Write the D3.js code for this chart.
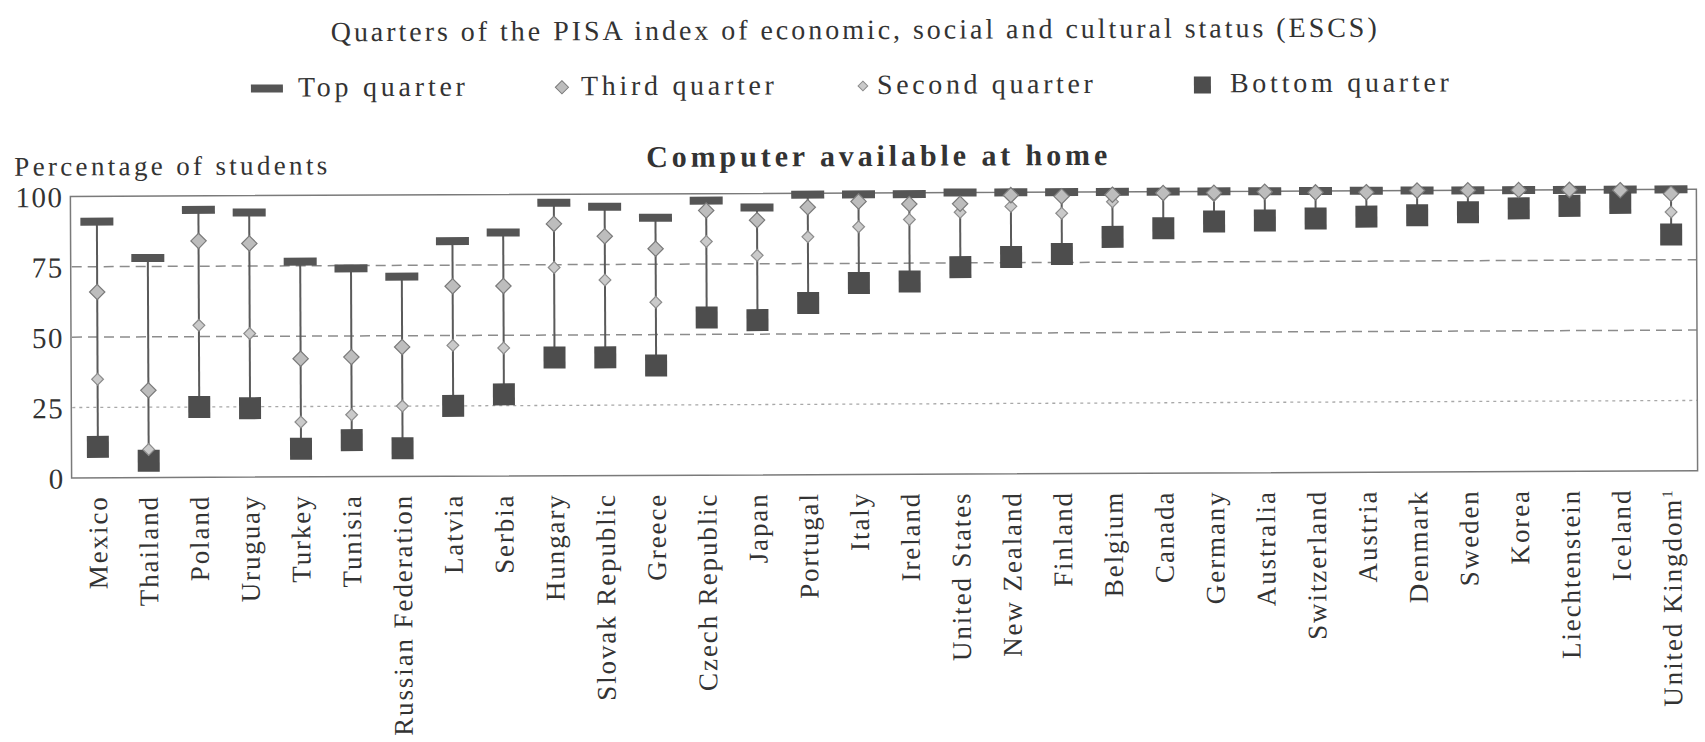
<!DOCTYPE html>
<html>
<head>
<meta charset="utf-8">
<script src="https://cdn.jsdelivr.net/npm/d3@7"></script>
<style>
  body { margin: 0; background: #fff; }
  text { font-family: "Liberation Serif", "DejaVu Serif", serif; fill: #333; }
</style>
</head>
<body>
<div id="chart"></div>
<script>
var countries = ["Mexico", "Thailand", "Poland", "Uruguay", "Turkey", "Tunisia", "Russian Federation",
    "Latvia", "Serbia", "Hungary", "Slovak Republic", "Greece", "Czech Republic", "Japan", "Portugal",
    "Italy", "Ireland", "United States", "New Zealand", "Finland", "Belgium", "Canada", "Germany",
    "Australia", "Switzerland", "Austria", "Denmark", "Sweden", "Korea", "Liechtenstein", "Iceland",
    "United Kingdom"];

var topQuarter    = [91, 78, 95, 94, 76.5, 74, 71, 83.5, 86.5, 97, 95.5, 91.5, 97.5, 95, 99.5, 99.5, 99.5,
    100, 100, 100, 100, 100, 100, 100, 100, 100, 100, 100, 100, 100, 100, 100];
var thirdQuarter  = [66, 31, 84, 83, 42, 42.5, 46, 67.5, 67.5, 89.5, 85, 80.5, 94, 90.5, 95, 97, 96,
    96, 99, 98.5, 99, 99.5, 99.5, 99.8, 99.5, 99.5, 100, 100, 100, 100, 99.8, 98.5];
var secondQuarter = [35, 10, 54, 51, 19.5, 22, 25, 46.5, 45.5, 74, 69.5, 61.5, 83, 78, 84.5, 88, 90.5,
    93, 95, 92.5, 96.5, 99, 98.5, 99.2, 99, 99, 99.5, 99.5, 99.7, 99.8, 99.5, 92];
var bottomQuarter = [11, 6, 25, 24.5, 10, 13, 10, 25, 29, 42, 42, 39, 56, 55, 61, 68, 68.5,
    73.5, 77, 78, 84, 87, 89.3, 89.6, 90.2, 90.8, 91.2, 92.2, 93.5, 94.3, 95.3, 84];

var yTicks = [0, 25, 50, 75, 100];

var width = 1705, height = 742;

var svg = d3.select("#chart")
    .append("svg")
        .attr("width", width)
        .attr("height", height)
    .append("g")
        // the scanned page sits slightly askew
        .attr("transform", "rotate(-0.25, 853, 335)");

var x = d3.scaleBand()
    .domain(countries)
    .range([72, 1697]);

var y = d3.scaleLinear()
    .domain([0, 100])
    .range([474.5, 193]);

var data = countries.map(function(c, i) {
    return { name: c, top: topQuarter[i], third: thirdQuarter[i], second: secondQuarter[i], bottom: bottomQuarter[i] };
});

// titles
svg.append("text")
    .attr("x", 332).attr("y", 39)
    .attr("textLength", 1046).attr("lengthAdjust", "spacing")
    .style("font-size", "28px")
    .text("Quarters of the PISA index of economic, social and cultural status (ESCS)");

svg.append("text")
    .attr("x", 15).attr("y", 172)
    .attr("textLength", 313).attr("lengthAdjust", "spacing")
    .style("font-size", "27px")
    .text("Percentage of students");

svg.append("text")
    .attr("x", 647).attr("y", 166)
    .attr("textLength", 461).attr("lengthAdjust", "spacing")
    .style("font-size", "30px")
    .style("font-weight", "bold")
    .text("Computer available at home");

// legend
var legendY = 86;
var legend = svg.append("g");
legend.append("rect").attr("x", 252).attr("y", legendY - 4).attr("width", 32).attr("height", 8).attr("fill", "#555");
legend.append("text").attr("x", 299).attr("y", legendY + 8).attr("textLength", 167).attr("lengthAdjust", "spacing")
    .style("font-size", "28px").text("Top quarter");
legend.append("path").attr("d", d3.symbol(d3.symbolDiamond2, 110)()).attr("transform", "translate(563," + legendY + ")")
    .attr("fill", "#bdbdbd").attr("stroke", "#7a7a7a");
legend.append("text").attr("x", 582).attr("y", legendY + 8).attr("textLength", 193).attr("lengthAdjust", "spacing")
    .style("font-size", "28px").text("Third quarter");
legend.append("path").attr("d", d3.symbol(d3.symbolDiamond2, 60)()).attr("transform", "translate(864," + legendY + ")")
    .attr("fill", "#cacaca").attr("stroke", "#8c8c8c");
legend.append("text").attr("x", 878).attr("y", legendY + 8).attr("textLength", 216).attr("lengthAdjust", "spacing")
    .style("font-size", "28px").text("Second quarter");
legend.append("rect").attr("x", 1195).attr("y", legendY - 8).attr("width", 17).attr("height", 17).attr("fill", "#4d4d4d");
legend.append("text").attr("x", 1231).attr("y", legendY + 8).attr("textLength", 219).attr("lengthAdjust", "spacing")
    .style("font-size", "28px").text("Bottom quarter");

// gridlines
svg.append("line")
    .attr("x1", 72).attr("x2", 1697).attr("y1", y(75)).attr("y2", y(75))
    .attr("stroke", "#8c8c8c").attr("stroke-width", 1.5).attr("stroke-dasharray", "10,6");
svg.append("line")
    .attr("x1", 72).attr("x2", 1697).attr("y1", y(50)).attr("y2", y(50))
    .attr("stroke", "#8c8c8c").attr("stroke-width", 1.5).attr("stroke-dasharray", "10,6");
svg.append("line")
    .attr("x1", 72).attr("x2", 1697).attr("y1", y(25)).attr("y2", y(25))
    .attr("stroke", "#a8a8a8").attr("stroke-width", 1.3).attr("stroke-dasharray", "3,4");

// frame
svg.append("rect")
    .attr("x", 71).attr("y", y(100))
    .attr("width", 1697 - 71).attr("height", y(0) - y(100))
    .attr("fill", "none").attr("stroke", "#7a7a7a").attr("stroke-width", 1.5);

// y axis labels
var yAxis = svg.append("g")
    .attr("transform", "translate(64,0)")
    .call(d3.axisLeft(y).tickValues(yTicks).tickSize(0).tickPadding(0));
yAxis.select(".domain").remove();
yAxis.selectAll("text")
    .style("font-family", "'Liberation Serif', serif")
    .style("font-size", "29px")
    .style("letter-spacing", "1.5px")
    .attr("fill", "#333")
    .attr("dy", "0.35em");

// x axis labels
var xAxis = svg.append("g")
    .attr("transform", "translate(0," + 492 + ")")
    .call(d3.axisBottom(x).tickSize(0).tickPadding(0));
xAxis.select(".domain").remove();
xAxis.selectAll("text")
    .attr("transform", "rotate(-90)")
    .attr("x", 0)
    .attr("y", 0)
    .attr("dy", "0.33em")
    .style("text-anchor", "end")
    .style("font-family", "'Liberation Serif', serif")
    .style("font-size", "27px")
    .style("letter-spacing", "1.9px")
    .attr("fill", "#333");
xAxis.selectAll(".tick text")
    .filter(function(d) { return d === "United Kingdom"; })
    .append("tspan")
        .attr("dy", "-0.6em")
        .style("font-size", "15px")
        .text("1");

// marks
var cx = function(d) { return x(d.name) + x.bandwidth() / 2; };
var marks = svg.append("g");

marks.selectAll("line.range")
    .data(data)
    .enter()
    .append("line")
        .attr("class", "range")
        .attr("x1", cx).attr("x2", cx)
        .attr("y1", function(d) { return y(d.top) })
        .attr("y2", function(d) { return y(d.bottom) })
        .attr("stroke", "#5a5a5a")
        .attr("stroke-width", 2);

marks.selectAll("rect.top")
    .data(data)
    .enter()
    .append("rect")
        .attr("class", "top")
        .attr("x", function(d) { return cx(d) - 16.5 })
        .attr("y", function(d) { return y(d.top) - 4 })
        .attr("width", 33)
        .attr("height", 8)
        .attr("fill", "#555");

marks.selectAll("rect.bottom")
    .data(data)
    .enter()
    .append("rect")
        .attr("class", "bottom")
        .attr("x", function(d) { return cx(d) - 11 })
        .attr("y", function(d) { return y(d.bottom) - 11 })
        .attr("width", 22)
        .attr("height", 22)
        .attr("fill", "#4d4d4d");

marks.selectAll("path.second")
    .data(data)
    .enter()
    .append("path")
        .attr("class", "second")
        .attr("d", d3.symbol(d3.symbolDiamond2, 88)())
        .attr("transform", function(d) { return "translate(" + cx(d) + "," + y(d.second) + ")" })
        .attr("fill", "#cacaca")
        .attr("stroke", "#8c8c8c")
        .attr("stroke-width", 1.2);

marks.selectAll("path.third")
    .data(data)
    .enter()
    .append("path")
        .attr("class", "third")
        .attr("d", d3.symbol(d3.symbolDiamond2, 150)())
        .attr("transform", function(d) { return "translate(" + cx(d) + "," + y(d.third) + ")" })
        .attr("fill", "#bdbdbd")
        .attr("stroke", "#7a7a7a")
        .attr("stroke-width", 1.2);
</script>
</body>
</html>
